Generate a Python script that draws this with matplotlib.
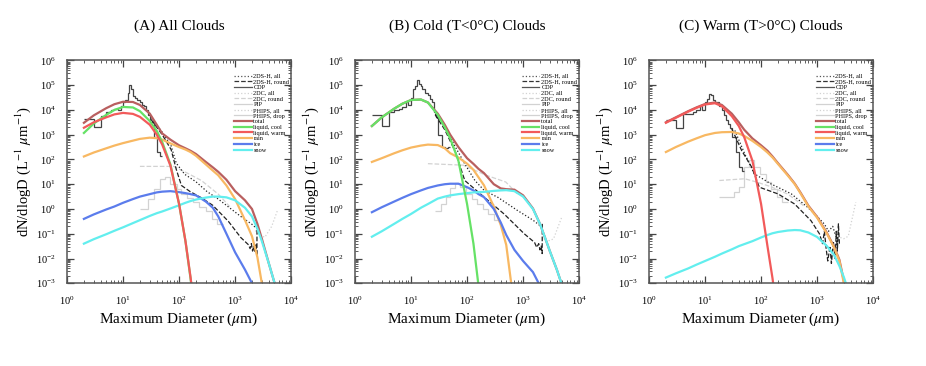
import numpy as np
import matplotlib
matplotlib.use("Agg")
import matplotlib.pyplot as plt
from matplotlib.lines import Line2D
from matplotlib.ticker import LogLocator, NullFormatter

plt.rcParams['font.family'] = ['Liberation Serif', 'DejaVu Serif']
plt.rcParams['mathtext.fontset'] = 'stix'

# diameter grid (um) for the fitted size distributions; values are log10(dN/dlogD)
D_FIT = [2, 3, 5, 7, 10, 15, 20, 30, 40, 50, 70, 100, 130, 160, 200, 300,
         400, 500, 700, 1000, 1500, 2000, 2500, 3000, 4000, 5000, 6000]
OFF = [-9] * 12  # below the axis

# ---- (A) all clouds
A_TOTAL = [3.48, 3.78, 4.07, 4.23, 4.33, 4.32, 4.2, 3.85, 3.4, 3.05, 2.8, 2.57, 2.45, 2.35,
           2.22, 1.9, 1.68, 1.5, 1.18, 0.72, 0.35, 0.0, -0.6, -1.2, -2.2, -2.95, -3.6]
A_COOL = [3.07, 3.45, 3.8, 4.0, 4.12, 4.1, 3.95, 3.55, 3.15, 2.7, 1.8, 0.2, -1.3, -2.8, -4.5] + OFF
A_WARM = [3.28, 3.5, 3.7, 3.82, 3.88, 3.84, 3.72, 3.4, 3.0, 2.6, 1.75, 0.2, -1.3, -2.75, -4.5] + OFF
A_RAIN = [2.12, 2.28, 2.45, 2.56, 2.66, 2.76, 2.83, 2.88, 2.86, 2.8, 2.65, 2.5, 2.4, 2.3,
          2.15, 1.8, 1.55, 1.36, 0.95, 0.4, -0.45, -1.1, -1.95, -3.0, -5, -7, -9]
A_ICE = [-0.4, -0.22, -0.02, 0.1, 0.25, 0.4, 0.5, 0.6, 0.67, 0.7, 0.72, 0.68, 0.64, 0.6,
         0.55, 0.3, 0.05, -0.3, -1.0, -1.75, -2.45, -3.0, -3.5, -4, -5, -6, -7]
A_SNOW = [-1.4, -1.22, -1.02, -0.88, -0.74, -0.57, -0.45, -0.28, -0.17, -0.1, 0.02, 0.15, 0.25,
          0.32, 0.38, 0.46, 0.5, 0.5, 0.47, 0.35, 0.05, -0.3, -0.8, -1.3, -2.2, -2.95, -3.6]

# ---- (B) cold clouds
B_TOTAL = [3.35, 3.7, 4.05, 4.25, 4.4, 4.42, 4.3, 3.85, 3.4, 3.0, 2.5, 2.05, 1.82, 1.62,
           1.45, 1.0, 0.83, 0.8, 0.78, 0.55, 0.02, -0.6, -1.2, -1.7, -2.45, -3.1, -3.7]
B_COOL = [3.35, 3.7, 4.05, 4.25, 4.4, 4.42, 4.3, 3.8, 3.3, 2.85, 1.95, 0.2, -1.4, -3.1, -5] + OFF
B_WARM = [-9] * 27
B_RAIN = [1.9, 2.05, 2.25, 2.37, 2.48, 2.56, 2.6, 2.58, 2.45, 2.25, 2.08, 1.83, 1.58, 1.28,
          0.96, 0.1, -0.65, -1.45, -4, -9, -9, -9, -9, -9, -9, -9, -9]
B_ICE = [-0.13, 0.07, 0.3, 0.45, 0.6, 0.75, 0.85, 0.95, 1.0, 1.02, 1.02, 0.88, 0.75, 0.6,
         0.48, 0.0, -0.55, -1.05, -1.65, -2.1, -2.55, -3.1, -3.6, -4, -5, -6, -7]
B_SNOW = [-1.12, -0.9, -0.6, -0.4, -0.2, 0.05, 0.2, 0.42, 0.5, 0.55, 0.6, 0.64, 0.67, 0.68,
          0.69, 0.73, 0.75, 0.76, 0.72, 0.5, 0.0, -0.6, -1.2, -1.7, -2.45, -3.1, -3.7]

# ---- (C) warm clouds
C_TOTAL = [3.5, 3.7, 3.95, 4.1, 4.24, 4.3, 4.2, 3.85, 3.5, 3.2, 2.85, 2.57, 2.35, 2.12,
           1.85, 1.38, 1.02, 0.68, 0.13, -0.32, -0.97, -1.52, -2.05, -2.9, -4.5, -6, -8]
C_COOL = [-9] * 27
C_WARM = [3.48, 3.68, 3.93, 4.08, 4.22, 4.27, 4.15, 3.75, 3.35, 2.9, 1.95, 0.2, -1.5, -2.8, -4.5] + OFF
C_RAIN = [2.3, 2.5, 2.72, 2.85, 2.98, 3.07, 3.1, 3.11, 3.05, 2.95, 2.75, 2.5, 2.28, 2.08,
          1.82, 1.35, 1.0, 0.65, 0.1, -0.35, -1.0, -1.55, -2.1, -3.0, -5, -7, -9]
C_ICE = [-9] * 27
C_SNOW = [-2.77, -2.6, -2.4, -2.25, -2.1, -1.93, -1.8, -1.63, -1.5, -1.42, -1.3, -1.15, -1.05,
          -0.98, -0.93, -0.87, -0.85, -0.86, -0.95, -1.13, -1.5, -1.85, -2.3, -2.75, -3.6, -5, -6]

# CDP histograms (bin edges in um, log10 values per bin)
CDP_EDGES = [2, 3, 4, 5, 6, 7, 8, 9, 10, 11, 12, 13, 14, 15, 16, 18, 20, 22, 24, 26, 28,
             30, 35, 40, 45, 50]
A_CDP = [3.65, 3.3, 3.75, 3.9, 4.0, 4.05, 4.0, 4.15, 4.3, 4.4, 4.7, 5.0, 4.85, 4.55, 4.5,
         4.4, 4.3, 4.2, 4.15, 4.0, 3.8, 3.5, 2.9, 2.3, 2.15]
B_CDP = [3.78, 3.37, 3.9, 4.0, 4.05, 4.1, 4.3, 4.2, 4.5, 4.85, 4.95, 5.2, 5.05, 4.95, 4.85,
         4.7, 4.6, 4.45, 4.3, 3.9, 3.7, 3.0, 2.5, 2.45, 2.5]
C_CDP = [3.58, 3.25, 3.85, 3.85, 3.9, 4.0, 4.15, 4.0, 4.3, 4.45, 4.65, 4.6, 4.4, 4.3, 4.3,
         4.15, 4.0, 3.8, 3.6, 3.45, 3.25, 2.9, 2.3, 1.7, 1.55]

# 2DS-H probe
A_2DS_ALL_D = [32, 50, 72, 89, 126, 200, 316, 500, 794, 1260, 2000, 2450]
A_2DS_ALL = [3.65, 3.1, 2.55, 1.85, 1.4, 1.1, 0.7, 0.4, 0.05, -0.3, -0.62, -0.8]
A_2DS_ROUND_D = [32, 50, 72, 89, 110, 158, 251, 398, 759, 1260, 1740, 1850, 1950, 2050, 2150,
                 2250, 2350, 2450, 2460]
A_2DS_ROUND = [3.6, 3.0, 2.4, 1.6, 0.95, 0.7, 0.45, 0.15, -0.5, -1.15, -1.45, -1.6, -1.4, -1.7,
               -1.5, -1.75, -1.45, -1.9, -0.5]
B_2DS_ALL_D = [27, 40, 62, 91, 138, 204, 355, 794, 1500, 2190]
B_2DS_ALL = [3.84, 3.3, 2.5, 1.82, 1.15, 0.74, 0.47, -0.06, -0.45, -0.74]
B_2DS_ROUND_D = [27, 40, 62, 91, 204, 457, 1047, 1600, 1750, 1900, 2000, 2100, 2190, 2200]
B_2DS_ROUND = [3.8, 3.2, 2.3, 1.15, 0.47, -0.2, -1.0, -1.35, -1.55, -1.4, -1.65, -1.5, -1.8, -0.6]
C_2DS_ALL_D = [34, 51, 76, 151, 347, 676, 1000, 1350, 1600, 1900, 2190]
C_2DS_ALL = [3.17, 2.23, 1.42, 1.01, 0.61, 0.07, -0.3, -0.61, -0.9, -0.7, -1.15]
C_2DS_ROUND_D = [30, 45, 68, 93, 200, 398, 776, 1100, 1250, 1350, 1450, 1550, 1700, 1800, 1950,
                 2100, 2200, 2300, 2400, 2500]
C_2DS_ROUND = [3.24, 2.36, 1.69, 0.88, 0.61, 0.2, -0.47, -1.0, -1.4, -0.9, -1.6, -2.1, -1.5,
               -2.2, -1.3, -2.0, -0.9, -1.7, -0.6, -1.4]

# 2DC, PIP, PHIPS (light grey)
A_2DC_D = [20, 80, 140, 250, 500, 800]
A_2DC = [1.72, 1.72, 1.45, 1.15, 0.6, 0.1]
A_PIP_EDGES = [20, 28, 35, 45, 55, 70, 90, 110, 140, 180, 230, 300, 380, 480, 600]
A_PIP = [0.0, 0.4, 0.8, 1.2, 1.3, 1.0, 0.8, 0.6, 0.45, 0.3, 0.1, -0.1, -0.4, -0.6]
A_PHIPS_D = [2300, 2700, 3400, 4500, 5700]
A_PHIPS = [-0.87, -1.05, -1.14, -0.7, -0.06]

B_2DC_D = [20, 85, 220, 490, 800]
B_2DC = [1.83, 1.77, 1.36, 1.09, 0.6]
B_PIP_EDGES = [27, 34, 42, 50, 60, 75, 95, 120, 150, 190, 240, 300, 380]
B_PIP = [-0.1, 0.2, 0.5, 0.85, 1.05, 0.9, 0.6, 0.4, 0.2, 0.0, -0.2, -0.45]
B_PHIPS_D = [2190, 3000, 3500, 4900]
B_PHIPS = [-1.2, -1.28, -1.2, -0.33]

C_2DC_D = [18, 51, 80, 150, 300, 600]
C_2DC = [1.15, 1.22, 1.1, 0.9, 0.6, 0.1]
C_PIP_EDGES = [18, 25, 33, 40, 50, 60, 75, 95, 120, 150, 190, 240, 300]
C_PIP = [0.47, 0.47, 0.7, 0.88, 1.69, 1.96, 1.7, 1.4, 1.1, 0.8, 0.5, 0.3]
C_PHIPS_D = [2600, 3000, 3600, 4900]
C_PHIPS = [-1.15, -1.2, -1.1, 0.27]

TITLES = ['(A) All Clouds', '(B) Cold (T<0\u00b0C) Clouds', '(C) Warm (T>0\u00b0C) Clouds']

COL_TOTAL = '#b95f5f'
COL_COOL = '#66e266'
COL_WARM = '#f25a5a'
COL_RAIN = '#f8b862'
COL_ICE = '#5b7cec'
COL_SNOW = '#62eeee'
COL_DARK = '#333333'
COL_LIGHT = '#d2d2d2'


def p(v):
    return 10.0 ** np.asarray(v, dtype=float)


panels = [
    (A_TOTAL, A_COOL, A_WARM, A_RAIN, A_ICE, A_SNOW, A_CDP,
     (A_2DS_ALL_D, A_2DS_ALL), (A_2DS_ROUND_D, A_2DS_ROUND),
     (A_2DC_D, A_2DC), (A_PIP_EDGES, A_PIP), (A_PHIPS_D, A_PHIPS)),
    (B_TOTAL, B_COOL, B_WARM, B_RAIN, B_ICE, B_SNOW, B_CDP,
     (B_2DS_ALL_D, B_2DS_ALL), (B_2DS_ROUND_D, B_2DS_ROUND),
     (B_2DC_D, B_2DC), (B_PIP_EDGES, B_PIP), (B_PHIPS_D, B_PHIPS)),
    (C_TOTAL, C_COOL, C_WARM, C_RAIN, C_ICE, C_SNOW, C_CDP,
     (C_2DS_ALL_D, C_2DS_ALL), (C_2DS_ROUND_D, C_2DS_ROUND),
     (C_2DC_D, C_2DC), (C_PIP_EDGES, C_PIP), (C_PHIPS_D, C_PHIPS)),
]

fig = plt.figure(figsize=(9.26, 3.66), dpi=100)
lefts = [0.0724, 0.3834, 0.7009]

legend_handles = [
    Line2D([], [], color='#555555', ls=':', lw=0.9, label='2DS-H, all'),
    Line2D([], [], color=COL_DARK, ls='--', lw=0.9, label='2DS-H, round'),
    Line2D([], [], color='#555555', ls='-', lw=0.9, label='CDP'),
    Line2D([], [], color=COL_LIGHT, ls=':', lw=0.9, label='2DC, all'),
    Line2D([], [], color=COL_LIGHT, ls='--', lw=0.9, label='2DC, round'),
    Line2D([], [], color=COL_LIGHT, ls='-', lw=0.9, label='PIP'),
    Line2D([], [], color=COL_LIGHT, ls=':', lw=0.9, label='PHIPS, all'),
    Line2D([], [], color=COL_LIGHT, ls='-', lw=0.9, label='PHIPS, drop'),
    Line2D([], [], color=COL_TOTAL, lw=1.6, label='total'),
    Line2D([], [], color=COL_COOL, lw=1.6, label='liquid, cool'),
    Line2D([], [], color=COL_WARM, lw=1.6, label='liquid, warm'),
    Line2D([], [], color=COL_RAIN, lw=1.6, label='rain'),
    Line2D([], [], color=COL_ICE, lw=1.6, label='ice'),
    Line2D([], [], color=COL_SNOW, lw=1.6, label='snow'),
]

for i, (total, cool, warm, rain, ice, snow, cdp, ds_all, ds_round, dc, pip, phips) in enumerate(panels):
    ax = fig.add_axes([lefts[i], 0.226, 0.242, 0.609])

    # light grey probes first
    ax.plot(dc[0], p(dc[1]), color=COL_LIGHT, ls='--', lw=0.9)
    ax.stairs(p(pip[1]), pip[0], baseline=None, color=COL_LIGHT, lw=0.9)
    ax.plot(phips[0], p(phips[1]), color=COL_LIGHT, ls=':', lw=0.9)

    # observations
    ax.stairs(p(cdp), CDP_EDGES, baseline=None, color='#444444', lw=0.9)
    ax.plot(ds_all[0], p(ds_all[1]), color='#222222', ls=':', lw=0.9)
    ax.plot(ds_round[0], p(ds_round[1]), color='#222222', ls='--', lw=0.9)

    # fitted distributions
    ax.plot(D_FIT, p(total), color=COL_TOTAL, lw=1.6)
    ax.plot(D_FIT, p(rain), color=COL_RAIN, lw=1.6)
    ax.plot(D_FIT, p(ice), color=COL_ICE, lw=1.6)
    ax.plot(D_FIT, p(snow), color=COL_SNOW, lw=1.6)
    ax.plot(D_FIT, p(cool), color=COL_COOL, lw=1.6)
    ax.plot(D_FIT, p(warm), color=COL_WARM, lw=1.6)

    ax.set_xscale('log')
    ax.set_yscale('log')
    ax.set_xlim(1, 1e4)
    ax.set_ylim(1e-3, 1e6)
    ax.xaxis.set_major_locator(LogLocator(base=10, numticks=10))
    ax.yaxis.set_major_locator(LogLocator(base=10, numticks=12))
    ax.xaxis.set_minor_locator(LogLocator(base=10, subs=np.arange(2, 10), numticks=100))
    ax.yaxis.set_minor_locator(LogLocator(base=10, subs=np.arange(2, 10), numticks=100))
    ax.xaxis.set_minor_formatter(NullFormatter())
    ax.yaxis.set_minor_formatter(NullFormatter())
    ax.tick_params(which='both', direction='in', top=True, right=True, color='#444444')
    ax.tick_params(which='major', length=5, width=0.9, labelsize=7.5, pad=8)
    ax.tick_params(which='minor', length=2.5, width=0.6)
    for s in ax.spines.values():
        s.set_color('#555555')
        s.set_linewidth(1.1)

    ax.set_title(TITLES[i], fontsize=11, pad=22)
    ax.set_xlabel(r'Maximum Diameter ($\mu$m)', fontsize=11, labelpad=3)
    ax.set_ylabel(r'dN/dlogD (L$^{-1}$ $\mu$m$^{-1}$)', fontsize=10.5)
    ax.yaxis.set_label_coords(-0.15, 0.5)

    ax.legend(handles=legend_handles, loc='upper right', bbox_to_anchor=(1.0, 0.95),
              frameon=False, fontsize=4.5, labelspacing=0.05, handlelength=2.8,
              handletextpad=0.3, borderpad=0.0, borderaxespad=0.3)

fig.savefig('out.png', dpi=100)
